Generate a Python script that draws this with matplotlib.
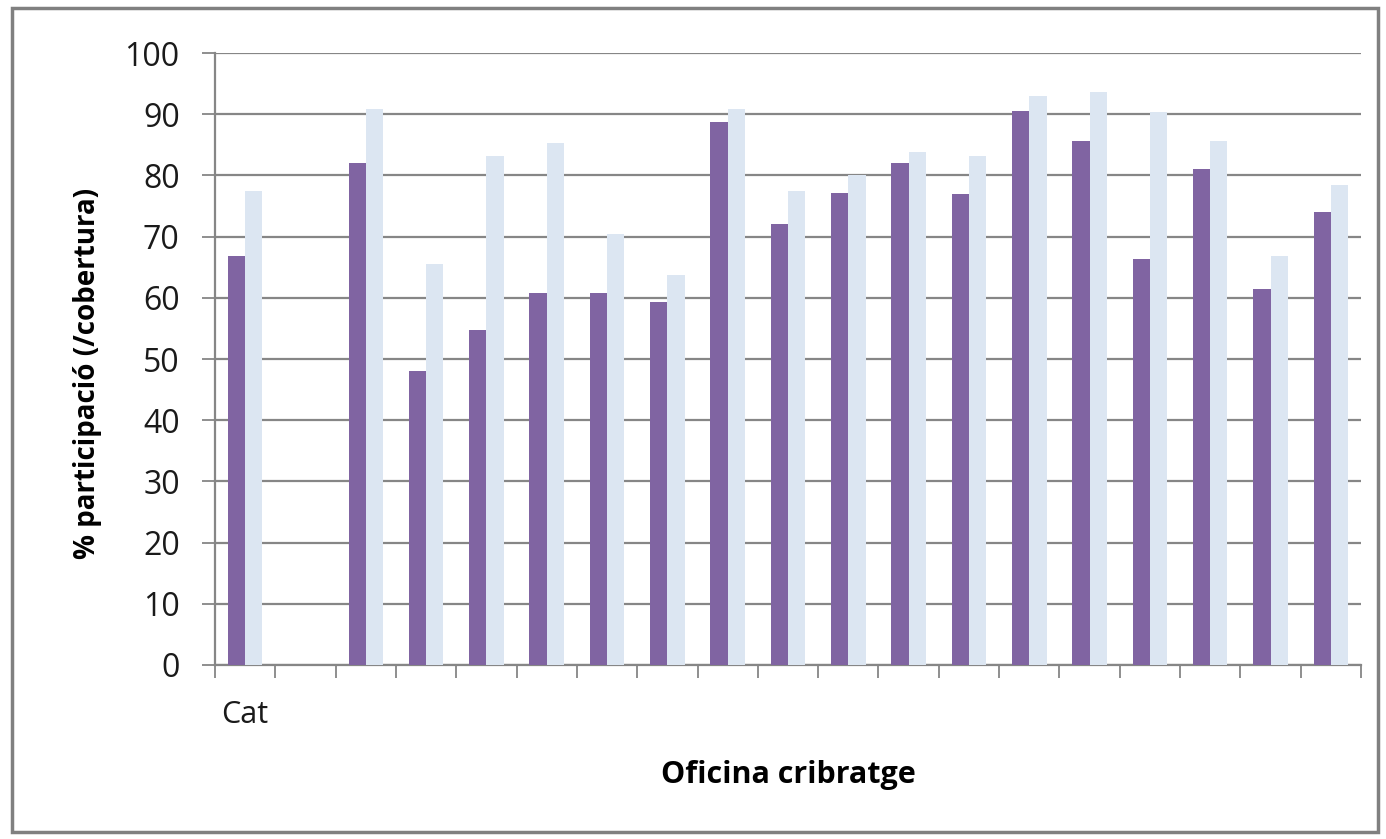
import numpy as np
import matplotlib.pyplot as plt
from matplotlib.patches import Rectangle

# participacio per oficina de cribratge (primera barra: Catalunya)
categories = ["Cat"] + [""] * 18
participacio = [66.8, np.nan, 82.0, 48.1, 54.7, 60.8, 60.8, 59.3, 88.7, 72.0,
                77.1, 82.0, 76.9, 90.6, 85.6, 66.3, 81.1, 61.4, 74.1]
cobertura = [77.5, np.nan, 90.8, 65.6, 83.2, 85.3, 70.5, 63.8, 90.8, 77.5,
             80.0, 83.8, 83.2, 92.9, 93.6, 90.3, 85.6, 66.8, 78.4]

purple = "#8064A2"
light = "#DCE6F2"
grid_col = "#868686"

plt.rcParams['font.family'] = ['Open Sans', 'DejaVu Sans']

fig = plt.figure(figsize=(13.86, 8.39), dpi=100)
ax = fig.add_axes([0.1551, 0.2074, 0.9820 - 0.1551, 0.9368 - 0.2074])

x = np.arange(len(categories))
w = 1 / 3.5
ax.bar(x - w / 2, participacio, width=w, color=purple, zorder=3)
ax.bar(x + w / 2, cobertura, width=w, color=light, zorder=3)

ax.set_xlim(-0.5, len(categories) - 0.5)
ax.set_ylim(0, 100)
ax.set_yticks(np.arange(0, 101, 10))
ax.yaxis.grid(True, color=grid_col, linewidth=1.6, zorder=0)

# ticks between categories, labels at the centres
ax.set_xticks(np.arange(-0.5, len(categories), 1))
ax.set_xticklabels([])
ax.set_xticks(x, minor=True)
ax.set_xticklabels(categories, minor=True, fontsize=22, color="#1a1a1a")
ax.tick_params(axis='x', which='major', direction='out', length=9.4,
               width=1.3, color=grid_col)
ax.tick_params(axis='x', which='minor', length=0, pad=25)
ax.tick_params(axis='y', direction='out', length=9.4, width=1.3,
               color=grid_col, labelsize=23, labelcolor="#1a1a1a", pad=16)

for s in ['top', 'right']:
    ax.spines[s].set_visible(False)
for s in ['left', 'bottom']:
    ax.spines[s].set_color(grid_col)
    ax.spines[s].set_linewidth(1.6)

ax.set_xlabel("Oficina cribratge", fontsize=22, fontweight='bold', labelpad=22)
ax.set_ylabel("% participació (/cobertura)", fontsize=20, fontweight='bold',
              labelpad=16, y=0.477)

# outer frame of the chart
fig.patches.append(Rectangle((0.009, 0.008), 0.985, 0.982, transform=fig.transFigure,
                             fill=False, edgecolor="#808080", linewidth=2.5))

fig.savefig("out.png", dpi=100)
